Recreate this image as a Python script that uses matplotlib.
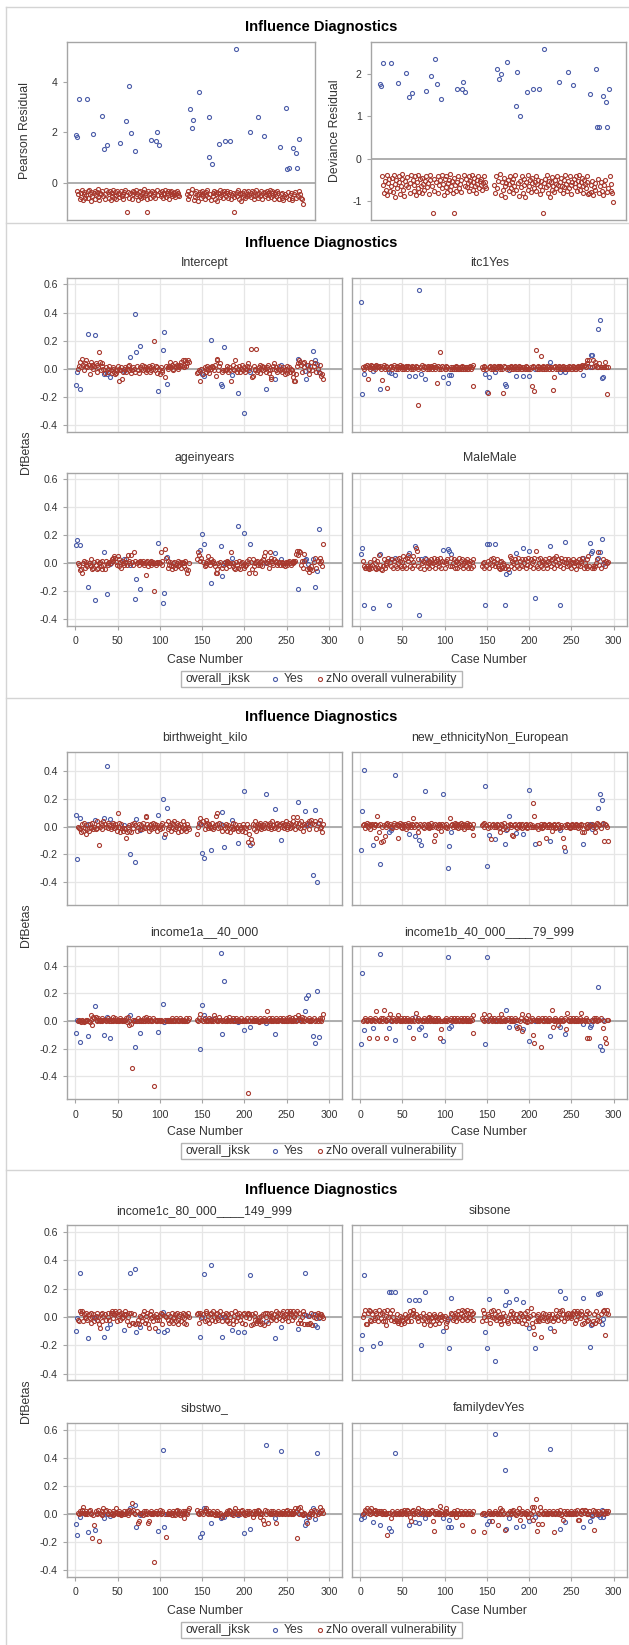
import matplotlib
matplotlib.use("Agg")
import matplotlib.pyplot as plt
from matplotlib.lines import Line2D
from matplotlib.patches import Rectangle

plt.rcParams['font.family'] = ['Liberation Sans', 'DejaVu Sans']

W, H = 629, 1645

# ---------------- data ----------------
CASES = list(range(1, 135)) + list(range(144, 294))
YES_CASES = [1, 2, 5, 15, 23, 34, 37, 41, 58, 65, 70, 72, 77, 98, 104, 105, 108,
             148, 150, 152, 160, 172, 173, 176, 185, 193, 200, 207, 225, 236, 243,
             264, 272, 273, 275, 281, 284, 286, 288]
NO_CASES = [c for c in CASES if c not in YES_CASES]
GROUP_ENDS = [14, 22, 33, 40, 57, 64, 76, 97, 107, 134, 159, 175, 192, 206, 224, 242, 263, 293]

LEGEND_TITLE = 'overall_jksk'
GROUP_LABELS = ['Yes', 'zNo overall vulnerability']
SECTION_TITLE = 'Influence Diagnostics'

# Residuals
PEARSON_YES = [1.89, 1.83, 3.30, 3.33, 1.92, 2.63, 1.34, 1.50, 1.57, 2.43, 3.84, 1.97, 1.26,
               1.70, 1.66, 2.00, 1.50, 2.91, 2.16, 2.49, 3.58, 1.04, 2.59, 0.75, 1.54, 1.66,
               1.66, 5.29, 2.00, 2.59, 1.84, 1.42, 2.95, 0.55, 0.59, 1.39, 1.17, 0.58, 1.74]
DEVIANCE_YES = [1.76, 1.71, 2.24, 2.24, 1.77, 2.02, 1.44, 1.54, 1.59, 1.95, 2.35, 1.76, 1.40,
                1.65, 1.63, 1.80, 1.56, 2.12, 1.87, 1.98, 2.28, 1.24, 2.03, 1.00, 1.56, 1.63,
                1.63, 2.58, 1.80, 2.03, 1.73, 1.51, 2.12, 0.75, 0.75, 1.47, 1.33, 0.75, 1.65]
# "No" group values in hundredths, one line per block of case numbers
PEARSON_NO = [
    [-30, -45, -62, -38, -55, -28, -66, -42, -35, -58, -48],
    [-33, -60, -27, -44, -70, -36, -52],
    [-40, -30, -63, -47, -35, -25, -56, -68, -38, -45],
    [-32, -50, -42, -62, -28],
    [-36, -58, -45, -30, -66, -40, -52, -27, -60, -35, -48, -62, -33, -44, -55, -38],
    [-30, -50, -42, -65, -36, -28],
    [-47, -113, -34, -58, -40, -62, -30, -45, -37],
    [-52, -28, -44, -66, -35, -50, -30, -60, -42, -36, -55, -25, -48, -38, -62, -113, -33, -45, -58, -40],
    [-30, -52, -44, -36, -60, -28, -47],
    [-35, -50, -42, -30, -58, -38, -45, -28, -55, -40, -33, -48, -62, -36, -44, -30, -52, -38, -46, -34, -56, -42, -30, -48, -40, -52],
    [-45, -62, -30, -52, -38, -25, -66, -40, -55, -33, -48, -70, -42],
    [-36, -58, -44, -30, -52, -40, -62, -35, -48, -28, -55, -42, -68],
    [-38, -50, -30, -62, -45, -35, -72, -40, -55, -28, -48, -36, -60, -42, -33],
    [-52, -40, -30, -58, -44, -36, -65, -48, -38, -55, -113, -42],
    [-35, -50, -28, -62, -45, -38, -70, -40, -55, -32, -48, -60, -36, -44, -52, -30, -46],
    [-40, -56, -33, -48, -62, -36, -50, -28, -44, -58, -38, -52, -30, -46, -64, -40],
    [-35, -50, -42, -30, -58, -38, -46, -28, -55, -40, -33, -48, -62, -36, -44, -52, -30, -40, -65, -62],
    [-45, -60, -38, -66, -50, -42, -55, -35, -62, -48, -40, -58, -66, -45, -36, -60, -52, -30, -44, -58, -62, -83],
]
DEVIANCE_NO = [
    [-41, -61, -81, -52, -73, -39, -85, -57, -48, -76, -64],
    [-45, -78, -38, -59, -89, -49, -69],
    [-54, -41, -82, -63, -48, -35, -74, -87, -52, -61],
    [-44, -67, -57, -81, -39],
    [-49, -76, -61, -41, -85, -54, -69, -38, -78, -48, -64, -81, -45, -59, -73, -52],
    [-41, -67, -57, -84, -49, -39],
    [-63, -128, -47, -76, -54, -81, -41, -61, -51],
    [-69, -39, -59, -85, -48, -67, -41, -78, -57, -49, -73, -35, -64, -52, -81, -128, -45, -61, -76, -54],
    [-41, -69, -59, -49, -78, -39, -63],
    [-48, -67, -57, -41, -76, -52, -61, -39, -73, -54, -45, -64, -81, -49, -59, -41, -69, -52, -62, -47, -74, -57, -41, -64, -54, -69],
    [-61, -81, -41, -69, -52, -35, -85, -54, -73, -45, -64, -89, -57],
    [-49, -76, -59, -41, -69, -54, -81, -48, -64, -39, -73, -57, -87],
    [-52, -67, -41, -81, -61, -48, -91, -54, -73, -39, -64, -49, -78, -57, -45],
    [-69, -54, -41, -76, -59, -49, -84, -64, -52, -73, -128, -57],
    [-48, -67, -39, -81, -61, -52, -89, -54, -73, -44, -64, -78, -49, -59, -69, -41, -62],
    [-54, -74, -45, -64, -81, -49, -67, -39, -59, -76, -52, -69, -41, -62, -83, -54],
    [-48, -67, -57, -41, -76, -52, -62, -39, -73, -54, -45, -64, -81, -49, -59, -69, -41, -54, -84, -81],
    [-61, -78, -52, -85, -67, -57, -73, -48, -81, -64, -54, -76, -85, -61, -49, -78, -69, -41, -59, -76, -81, -102],
]

# DfBetas, "Yes" group (same order as YES_CASES)
INTERCEPT_YES = [-0.114, -0.024, -0.143, 0.25, 0.238, -0.036, -0.036, -0.06, -0.017, 0.081, 0.393, 0.119, 0.16,
                 -0.157, 0.131, 0.264, -0.107, -0.017, -0.036, -0.052, 0.207, -0.11, -0.121, 0.152, -0.048,
                 -0.171, -0.314, -0.02, -0.143, -0.071, 0.029, 0.071, -0.017, -0.071, 0.024, 0.124, 0.06, 0.031, -0.024]
ITC1_YES = [0.476, -0.179, -0.036, -0.017, -0.143, -0.024, -0.03, -0.043, -0.052, -0.055, 0.564, -0.036, -0.071,
            -0.06, -0.1, -0.043, -0.043, -0.036, -0.167, -0.06, -0.024, -0.107, -0.124, -0.01, -0.052, -0.052,
            -0.052, 0.0, 0.048, -0.024, -0.02, -0.048, 0.01, 0.095, 0.1, 0.28, 0.35, -0.064, -0.06]
AGE_YES = [0.131, 0.167, 0.131, -0.171, -0.262, 0.083, -0.219, -0.005, 0.029, -0.012, -0.257, -0.114, -0.186,
           0.143, -0.286, -0.214, 0.048, 0.095, 0.207, 0.136, -0.143, 0.124, -0.088, 0.0, 0.04, 0.269, 0.214,
           0.136, 0.0, 0.076, 0.029, -0.186, 0.024, 0.031, -0.005, 0.031, -0.171, -0.052, 0.243]
MALE_YES = [0.064, 0.112, -0.298, -0.317, 0.067, -0.298, 0.03, 0.04, 0.076, 0.126, -0.369, 0.03, 0.04, 0.095,
            0.1, 0.085, 0.067, -0.298, 0.138, 0.138, 0.136, -0.298, -0.076, -0.06, 0.076, 0.112, 0.09, -0.25,
            0.124, -0.298, 0.155, 0.04, 0.143, 0.071, 0.088, 0.036, 0.083, 0.174, -0.005]
BIRTH_YES = [0.082, -0.231, 0.063, 0.022, 0.05, 0.063, 0.441, 0.058, 0.01, -0.195, -0.258, 0.055, -0.022, 0.082,
             0.198, -0.075, 0.137, 0.022, -0.188, -0.224, -0.166, 0.022, 0.106, -0.147, 0.046, -0.116, 0.258,
             -0.13, 0.234, 0.125, -0.094, 0.178, 0.113, 0.01, 0.02, -0.347, 0.118, -0.4, 0.025]
ETHN_YES = [-0.166, 0.113, 0.412, -0.135, -0.267, -0.039, -0.022, 0.371, -0.05, -0.067, -0.099, -0.13, 0.258,
            0.239, -0.296, -0.142, -0.039, 0.292, -0.287, -0.063, -0.087, -0.123, -0.027, 0.077, -0.046, -0.055,
            0.263, -0.128, -0.104, -0.027, -0.178, -0.128, 0.022, 0.01, -0.02, 0.137, 0.239, 0.19, 0.02]
INC1A_YES = [-0.089, 0.007, -0.154, -0.108, 0.108, -0.101, 0.027, -0.12, 0.007, 0.043, -0.186, 0.0, -0.089,
             -0.082, 0.12, -0.005, 0.01, -0.202, 0.116, 0.043, 0.012, 0.489, -0.094, 0.292, 0.007, -0.005,
             -0.065, -0.046, -0.012, -0.094, 0.007, 0.007, 0.072, 0.164, 0.188, -0.108, -0.157, 0.217, -0.118]
INC1B_YES = [-0.166, 0.349, -0.065, -0.053, 0.482, -0.048, 0.0, -0.137, -0.041, 0.027, -0.06, -0.046, -0.101,
             -0.145, 0.46, -0.053, -0.034, -0.166, 0.46, 0.007, 0.01, 0.01, 0.08, -0.046, -0.034, -0.058,
             -0.142, 0.0, -0.108, -0.041, -0.094, -0.024, -0.041, -0.03, 0.007, 0.248, -0.178, -0.21, 0.007]
INC1C_YES = [-0.099, -0.005, 0.308, -0.151, -0.005, -0.144, -0.08, -0.052, -0.094, 0.308, 0.339, -0.104, -0.073,
             -0.096, 0.038, -0.104, -0.092, -0.144, 0.0, 0.304, 0.367, 0.0, -0.144, 0.0, -0.092, -0.104,
             -0.104, 0.296, -0.028, -0.146, -0.073, -0.087, 0.308, 0.014, 0.01, 0.019, -0.056, -0.068, -0.01]
SIBS1_YES = [-0.226, -0.127, 0.296, -0.205, -0.186, 0.174, 0.174, 0.174, 0.12, 0.12, 0.12, -0.198, 0.174,
             -0.099, -0.014, -0.221, 0.132, -0.108, -0.216, 0.125, -0.311, 0.085, 0.186, 0.108, 0.125, 0.108,
             -0.08, -0.221, -0.08, 0.186, 0.132, 0.132, -0.209, -0.056, -0.05, 0.16, 0.172, -0.05, -0.014]
SIBS2_YES = [-0.073, -0.151, -0.024, -0.129, -0.113, -0.031, 0.0, -0.014, 0.0, 0.04, 0.064, -0.094, -0.007,
             -0.12, 0.456, -0.089, 0.0, -0.165, -0.136, 0.04, -0.066, -0.031, -0.024, -0.02, 0.0, -0.005,
             -0.132, -0.108, 0.492, -0.031, 0.449, 0.005, -0.078, -0.047, -0.014, 0.04, -0.038, 0.435, 0.016]
FAMDEV_YES = [-0.038, -0.01, -0.024, -0.054, -0.078, -0.101, -0.12, 0.435, -0.078, -0.054, -0.066, 0.0, -0.031,
              -0.031, -0.094, -0.04, -0.094, -0.007, -0.073, -0.047, 0.569, 0.311, -0.106, -0.031, -0.089,
              -0.082, -0.047, -0.019, 0.464, -0.108, -0.054, -0.094, -0.047, 0.0, -0.014, -0.01, -0.02, 0.028, -0.024]

# DfBetas, "No" group in hundredths, one line per block of case numbers
INTERCEPT_NO = [
    [0, 2, 5, 1, 7, 3, -1, 4, 2, 6, 1], [3, -4, 5, 1, 3, 0, 2], [4, -2, 3, 1, 12, 5, -1, 2, 4, 0],
    [-3, 1, -2, 0, 2], [-1, -3, 1, 0, -2, -4, -3, -1, 2, -9, 0, -1, 1, -7, -2, 0], [1, -2, 0, 2, -1, 3],
    [-3, -1, 1, 0, -2, 2, -1, -3, 1], [0, 3, -1, 2, 0, -2, 1, -1, 0, 2, -2, 1, -1, 3, 0, 20, -1, 2, -3, 1],
    [0, -4, 1, -2, -1, -6, 2], [1, 0, 2, 5, 1, 3, 0, -1, 2, 4, 1, 3, 2, 0, 1, 3, 5, 2, 6, 1, 3, 6, 2, 4, 6, 5],
    [-3, -2, -1, -9, 0, -4, 1, -2, 0, 2, -1, -3, 1], [0, 2, 1, -1, 3, -5, 7, 6, -1, 2, 4, -2, -1],
    [-1, -1, 0, 2, -2, 1, -1, -9, 0, 3, -1, 6, 1, -2, 0], [2, -2, 0, 3, -1, 1, -2, 0, 2, 4, -1, 1],
    [14, -6, -5, 2, -1, 0, 14, -2, -1, 1, 3, -3, 0, 2, -1, 1, 0], [-2, 1, 3, -3, -1, -7, -6, 0, 2, 4, -1, 1, -2, 0, 2, -1],
    [0, -2, 1, -1, -4, 0, 2, -3, -1, 1, -2, 0, -1, -3, -6, -9, -9, -4, 2, 4],
    [6, 5, 3, -2, 4, 1, 5, 3, 0, -4, 2, 5, -1, 2, 4, -2, 0, 3, -3, -5, -4, -7],
]
ITC1_NO = [
    [1, 0, 2, 1, 3, -7, 2, 0, 1, 3, 2], [1, 2, 0, 3, 1, 2, 1], [2, 0, -8, 1, 3, 0, 2, 1, -14, 0],
    [1, 2, 0, 1, 3], [0, 1, 2, 0, 1, 3, 1, 0, 2, 1, 0, 1, 2, 0, 1, 2], [1, 0, 2, 1, 0, 1],
    [2, 1, -26, 0, 1, 3, 0, 1, 2], [1, 0, 2, 1, 0, 1, 2, 0, 1, 3, 1, 0, 1, -10, 2, 0, 12, 1, 0, 2],
    [1, 0, 2, 0, 1, 0, 1], [0, 1, 0, 1, 2, 0, 1, 0, 0, 1, 0, 1, 2, 0, 1, 0, 1, 0, 1, 0, 1, 2, 0, 1, -12, 3],
    [1, 0, 2, 1, 0, -17, 1, 2, 0, 1, 0, 2, 1], [0, 1, 2, 1, 0, 2, 1, 0, -17, 2, 1, 0, 1],
    [1, 0, 2, 1, 0, 1, 2, 0, 1, 0, 2, 1, 0, 1, 0], [1, 0, 2, 0, 1, 0, 0, 1, -12, 2, 1, -16],
    [13, 0, 1, 2, 0, 1, 9, 0, 1, 2, 0, 1, 0, 2, 1, 0, 1], [1, 0, -15, -6, 1, 2, 0, 1, 0, 2, 1, 0, 1, 2, 0, 1],
    [0, 1, 0, 2, 1, 0, 1, 0, 2, 1, 0, 1, 0, 1, 2, 1, 0, 2, 1, 3],
    [2, 3, 1, 6, 4, 2, 6, 1, 6, 2, 5, 3, 1, 1, 4, 1, 1, 1, 5, 1, -18, 1],
]
AGE_NO = [
    [0, -1, -5, -4, -7, 0, 2, -3, 1, -1, -2], [0, -1, 3, -2, -4, -3, 1], [-1, -4, 2, -3, 0, 1, -2, -4, 2, -1],
    [-4, 2, 0, -1, 1], [0, 3, 4, 2, 5, 4, 1, -1, 5, 3, -2, 1, -3, 2, 0, -1], [1, 3, -1, 6, 2, 0],
    [6, 1, -1, 8, 2, 0, 1, -1, 2], [1, 0, 2, -1, 0, -8, 1, 2, -2, 0, 1, -1, 2, 0, 1, -20, 0, -1, 1, 0],
    [1, 0, 8, 2, -1, 10, 4], [2, -3, -1, 1, -2, -4, 0, -2, 1, -3, -1, 0, 2, -2, -1, 1, -3, 0, 1, -2, 0, 2, -4, -7, -5, 0],
    [3, 8, 6, 2, 4, 1, -2, 0, -1, 2, 5, 1, -1], [3, 1, 2, 0, -2, -7, -4, -7, 0, -1, 1, -3, -1],
    [1, -3, 0, 2, 1, -2, 0, 8, 0, -2, -3, -4, 1, -1, -3], [2, -4, 0, 1, -1, -3, -2, -1, 2, 0, -7, 3],
    [1, -4, 3, -2, 0, -7, 1, 2, -1, 0, 1, -1, 2, -2, 3, 5, 8], [1, 0, 2, -3, 8, 4, 2, 0, -1, 3, 1, 2, -1, 0, 1, -1],
    [0, 1, -1, 0, -2, 1, 0, -1, 1, 2, 0, -1, 1, 2, 0, 1, 2, 7, 9, 6],
    [9, 8, -1, 2, -3, 7, 2, -4, -6, -3, -4, -2, -5, 1, 4, -3, 2, 4, 0, 2, -2, 14],
]
MALE_NO = [
    [2, -2, -3, -3, -2, -3, -4, 1, -2, -3, -1], [3, -3, 0, -4, 2, -3, 6], [-1, -4, -5, -2, 3, -3, 0, -1, 2, 4],
    [1, -2, 3, -3, 2], [-2, 3, -3, 0, 4, 2, -2, -3, 1, 5, -2, 3, -3, 4, 2, 6], [-2, 3, -3, 1, 5, -1],
    [11, 9, -2, 3, -3, 0, 2, -4, 1], [3, -2, 0, 2, -3, 1, 3, -2, 0, 4, 1, -3, 2, 3, 0, -2, 1, 4, -3, 2],
    [1, -3, 2, 0, 3, -2, 4], [-2, 0, 3, -3, 1, 2, -3, 0, 4, -2, 2, -1, 3, -3, 0, 2, -2, 1, 3, -3, 0, 2, -3, 1, -2, 3],
    [-2, 0, -3, 1, -2, 2, -3, 0, 3, -1, 4, 2, -2], [0, 3, -2, -3, 1, -4, 2, -3, 0, -1, -3, -2, -4],
    [5, -2, 4, 2, 0, -3, 3, 1, -2, 4, -3, 2, -1, 3, -2], [0, 3, -3, 2, -1, 4, -2, 3, 0, 2, -3, 4],
    [9, -2, 3, -3, 0, 4, -2, 1, -3, 2, 0, 3, -1, -3, 2, 0, 4], [-2, 3, 0, 4, -3, 2, 5, -1, 3, 0, -2, 4, 2, -3, 1, 3],
    [0, -2, 3, -1, 2, 0, -3, 1, 3, -2, 0, 2, -4, 1, -1, 3, -2, 0, 2, 4],
    [-3, 0, -2, 3, -3, 5, -2, -3, -2, -3, -2, 0, 3, 8, -1, -3, 3, 1, -2, 2, 0, 1],
]
BIRTH_NO = [
    [0, -1, -2, -4, 2, -3, 3, -1, -5, 1, -2], [-3, 2, 0, -1, 3, -2, 0], [-2, 4, -1, 1, -13, 0, 3, 1, -2, 4],
    [2, 0, -1, 3, 1], [-2, 0, 3, 1, -1, 2, 0, -3, 10, 3, 0, -4, 2, -1, -3, -1], [-2, -8, -4, 0, -3, 1],
    [-4, 2, -1, 3, 1, -3, 0, 2, -2], [1, -2, 3, 0, -1, 8, 7, 2, 0, -3, 1, 2, -2, 0, 3, -1, 2, 0, -3, 1],
    [0, -2, 1, 3, -1, -5, 2], [4, -2, 0, 1, -3, 3, -1, 2, 4, -2, 0, 3, -4, 1, -1, 2, -3, 0, 4, -2, 1, -1, -3, 2, 0, -2],
    [-5, 0, 3, 6, 2, 4, -2, 1, 5, 3, -1, 2, 0], [-1, 3, -2, 0, 1, 8, 10, 2, -1, 3, 0, -3, 1],
    [-1, 2, 0, -3, 1, -1, -4, 0, -2, 3, -1, 2, -1, 0, -3], [1, -2, 0, -3, 2, 0, -4, -1, 2, -11, -5, 0],
    [-9, -12, 2, -2, 4, 1, -3, 0, 2, -1, 1, 3, -2, 0, 1, -1, 3], [0, 2, -1, 1, 3, 0, -2, 4, 1, -1, 2, 0, 3, -2, 1, 2],
    [0, 3, 1, -1, 2, 4, 0, -2, 1, 3, -1, 2, 0, 4, 7, 1, -2, 3, 7, 0],
    [3, -1, 4, 1, -3, 2, 0, 3, 4, -2, 1, 5, 3, 2, 4, -2, 3, -1, 5, 0, -4, 2],
]
ETHN_NO = [
    [1, 2, -1, 1, 3, 0, 2, 1, -2, 1, 2], [0, 1, 2, -8, 8, 1, -4], [2, -11, 0, -10, 1, -7, 2, 0, 3, 1],
    [2, 0, -1, 1, 3], [0, 2, 1, -8, 1, 3, 0, -1, 2, 1, 0, 2, -2, 1, 0, 3], [1, 0, 2, 1, 6, 0],
    [2, 1, -4, 0, 2, 1, 0, -1, 2], [1, 0, 2, -1, 1, 0, 3, 0, 1, -10, -6, 2, 0, 1, -1, 2, 0, 1, -3, 2],
    [1, 0, 2, 0, -1, 6, 1], [2, 0, 1, 3, 0, 2, 1, -1, 2, 0, 3, 1, 0, 2, -2, 1, 0, 3, 1, 0, 2, 1, 0, -1, -6, 2],
    [1, 2, 0, 3, 1, -1, 2, 0, -9, 1, 2, 0, 1], [0, 2, 1, -1, -4, 0, 2, 1, -2, 3, 0, -2, 1],
    [2, 0, 1, -6, -7, 1, 2, 0, -1, 1, 2, 0, 1, -1, 2], [0, 1, 2, 0, -1, 1, 2, 0, 1, 0, 17, 8],
    [0, 1, -2, 1, -12, 0, 2, -1, 1, 0, 2, 1, -8, 0, 1, 2, 0], [1, -3, 0, 2, 1, -1, 0, 1, 2, -1, 0, 1, 0, -8, -15, 1],
    [0, 2, 1, 0, -1, 1, 0, 2, 1, 0, 1, 2, 0, 1, -1, 1, 0, 2, 1, -4],
    [-4, 1, 0, 2, -1, 0, 1, 2, 0, 1, -4, 0, 3, 2, 1, -1, 3, -10, 2, 1, 0, -10],
]
INC1A_NO = [
    [0, 1, 0, -1, 1, 0, -1, 0, 1, 0, 1], [0, -1, 1, 4, -3, 3, 2], [3, 1, 0, 2, 1, 0, 1, 2, 0, 1],
    [1, 0, 2, 1, 0], [0, 1, 3, 0, 1, 2, 0, 1, 0, 1, 0, 2, 1, 0, 1, 0], [1, 2, -1, 3, -3, 0],
    [-2, -34, 1, 0, 1, 0, 2, 0, 1], [0, 1, 0, 2, 0, 1, 3, 1, 0, 2, 1, 0, 1, 0, 2, -47, 1, 0, 1, 0],
    [1, 0, 1, 0, 0, 1, 0], [0, 1, 0, 1, 0, 2, 1, 0, 1, 0, 2, 1, 0, 1, 0, 2, 1, 0, 1, 0, 1, 0, 2, 0, 1, 2],
    [1, 0, 2, 5, 1, 0, 2, 1, 0, 1, 0, 2, 1], [0, 1, 0, 4, 2, 1, 0, 1, 0, 3, 1, 0, 1],
    [0, 2, 1, 0, 1, 3, 0, 1, 2, 0, 1, 0, 2, 1, 0], [1, 0, 2, 0, 1, 0, 1, 0, 2, -52, 1, 0],
    [2, 0, 1, 0, 2, 1, 0, 1, 0, -1, 2, 0, 1, 0, 1, 2, 0], [1, 7, 0, 2, 1, 0, 1, 2, 0, 1, 0, 2, 1, 0, 1, 2],
    [0, 1, 2, 0, 1, 0, 2, 1, 0, 3, 1, 0, 2, 1, 0, 1, 3, 0, 1, 4],
    [2, 1, 0, 3, 1, 0, 2, 1, 0, 2, 1, 0, 1, 2, 0, 1, 0, 2, 1, 0, 2, 5],
]
INC1B_NO = [
    [0, 1, 2, 1, 0, 1, -12, 1, 2, 0, 1], [1, 0, 2, 7, -12, 1, 0], [1, 2, 0, 2, 8, 1, 0, -12, 1, 2],
    [5, 1, 0, 2, 1], [0, 1, 2, 4, 1, 0, 2, 1, 0, 1, 2, 0, 1, 2, 0, 1], [1, 0, 2, 1, -12, 0],
    [6, 1, 0, 2, 1, 0, 1, 2, 0], [1, 0, 2, 1, 3, 0, 2, 1, 0, 1, 2, 0, 1, 0, 2, 1, 0, -12, -6, 0],
    [1, 0, 2, 1, 0, 1, 2], [0, 1, 2, 0, 1, 0, 2, 1, 0, 1, 2, 0, 1, 0, 2, 1, 0, 1, 2, 0, 1, 0, 2, 1, -9, 4],
    [2, 1, 0, 5, 1, 0, 4, 1, 2, 0, 1, 2, 0], [1, 0, 2, 1, 0, 1, 5, 0, 2, 1, 0, 1, 2],
    [0, 1, 2, 0, 1, 0, 2, 1, -5, 1, -4, 0, 2, -7, 5], [1, 0, 2, -1, 0, 4, 1, 0, 2, 1, -10, -16],
    [1, 0, 2, 1, 0, 1, -19, 2, 0, 1, 0, 2, 1, 0, 1, 0, 2], [1, 8, -4, 1, 0, 2, 1, 0, -3, 1, 0, 2, 1, 0, 1, 2],
    [-6, 6, 1, 0, 2, 1, 0, 1, 2, 0, 1, 0, 2, 1, 0, 1, 2, 0, 6, 1],
    [1, 0, 2, -12, 1, 0, -12, 1, 0, 2, 1, 2, 0, 1, 1, 2, -5, 0, -12, -16, 1, 1],
]
INC1C_NO = [
    [-2, -3, 4, 3, 4, -3, 2, 0, -1, 3, -2], [2, -1, -4, 3, 0, 2, -3], [1, 3, -2, 0, -5, -8, 2, -3, 3, 1],
    [2, -2, 3, 0, -2], [3, 4, 3, -1, 2, 4, 3, -3, 1, 2, 4, -2, 3, -1, 0, 2], [4, 2, -3, 0, -6, 3],
    [3, -4, -4, 2, -5, -4, -2, -5, 1], [0, -3, 2, 4, -4, 1, -2, 3, -5, -8, 2, -1, 4, 0, -3, 1, -8, 2, -2, 0],
    [-2, 1, 3, -5, 2, 1, 0], [-2, 2, -4, 1, -3, 3, -4, -1, 0, 2, -3, 3, -2, -5, 1, 2, -3, 0, 3, -4, -1, 2, -5, 1, 3, 0],
    [2, 3, -4, 3, -1, 2, -3, 3, 4, -2, 1, -4, 2], [3, -2, 4, 0, -3, 2, -1, 3, -2, 1, 4, -3, 2],
    [1, 3, -3, -2, 2, -4, 0, 3, -2, -5, 1, 4, -3, 2, 0], [3, -2, 1, -4, 2, 3, -5, 0, 2, 3, -1, 2],
    [-6, 2, -5, 1, -2, 3, -4, -3, -2, 0, -3, -5, 1, -4, 2, -6, 3], [0, 3, -4, 2, 1, -2, 3, 0, -1, 2, 4, -2, 1, 3, -1, 2],
    [3, -2, 4, 1, -1, 2, 4, 0, -3, 3, 4, 2, -2, 4, 1, 0, 3, 2, 4, -4],
    [3, -2, -4, 0, 4, -5, 2, -5, -5, 1, -4, 3, -6, 0, 2, -1, 3, 2, 0, 2, 1, -1],
]
SIBS1_NO = [
    [0, 2, 5, -5, -5, 3, 5, -2, 4, -3, 2], [-2, 4, -1, 3, 0, -3, 5], [2, -1, 3, -3, 4, -3, 1, -6, 5, 0],
    [3, -2, 5, 0, -3], [-2, -3, 2, -4, -3, 1, -5, -2, 0, -3, -4, 2, -1, 0, -3, 1], [4, -3, 2, 3, 5, 1],
    [2, -1, 0, -3, 1, -2, 3, -1, -5], [1, -3, 0, -2, 2, -6, -1, 0, -3, 2, -5, 1, 0, -2, -1, -4, 0, 2, -2, 1],
    [-1, 1, -4, -7, -3, 0, 3], [2, -2, -1, 3, 0, -3, 2, 4, -1, 0, 3, 5, -2, 1, 4, -1, 2, 5, -2, 3, 0, -1, 4, 2, -2, 3],
    [-3, 5, 0, 3, -2, 2, 1, -4, 4, 0, 5, -1, 2], [-2, 1, 4, -1, 0, -3, -5, 0, 3, -2, 1, -3, -4],
    [2, -1, 4, 0, 3, -3, -1, 2, -2, -3, 0, 3, 2, -4, 1], [-2, 3, -5, 0, 4, -1, 1, 6, -4, 2, -7, -12],
    [-3, 1, -2, 2, -3, -1, -14, 0, 3, -2, -1, 2, 0, -3, 1, 2, -2], [-1, 2, -3, -1, -10, 0, 5, 1, -2, 3, 4, -1, 5, 2, -3, 0],
    [2, -1, 3, 0, 2, -1, 1, 3, 2, 4, -4, 3, -2, 4, 1, 3, -1, 4, 2, -5],
    [-4, 0, 2, -3, 4, -2, 3, -5, -3, 2, -4, 4, -2, 1, -3, 2, 4, 5, -13, 3, 5, 2],
]
SIBS2_NO = [
    [1, 0, 2, 1, 3, 5, 1, 0, 2, 1, 0], [2, 3, 1, 0, -17, -1, -8], [2, 0, 1, 3, -19, 1, 0, 2, -1, 4],
    [2, 3, 1, 0, 2], [0, 1, -1, 2, 0, 1, 4, 1, 0, 2, 1, 0, -1, 1, 0, 2], [0, 1, 2, -1, 1, 3],
    [2, 8, 3, 1, 0, 2, -6, -5, 1], [0, 1, -1, 2, 0, 1, 2, 0, -6, -5, 1, 0, 2, 1, 0, -34, 1, 2, 0, 1],
    [1, 3, 0, 2, 1, 0, -16], [0, 1, 2, 0, 1, -1, 2, 1, 0, -1, 2, 3, 1, 0, 2, -1, 1, 0, 2, 1, -3, 2, 1, 0, 3, 4],
    [3, 1, 0, 2, 1, 0, 3, 4, 2, 1, 0, 2, 1], [0, 1, 2, 0, -1, 1, 0, 2, -1, 0, 1, -2, -1],
    [0, 1, 2, 0, 1, 3, 2, 0, -1, 1, 2, 4, 1, 0, 2], [1, 0, 2, 3, 1, 0, -1, 1, 2, 0, 1, 2],
    [1, 0, -2, 2, 1, 0, 2, 1, 3, 2, 0, -2, 1, 0, -4, -7, 3], [0, 2, -6, 1, 0, 2, 1, 0, 2, 1, 0, -6, 1, 2, 0, 1],
    [1, 0, 2, 1, 0, 2, 1, 3, 0, 1, 2, 0, 1, 2, 0, 1, 4, 2, -17, 4],
    [0, 5, 2, 0, -1, 0, 1, -6, -2, 0, 1, 2, 0, 3, -1, 2, 0, 1, 5, 2, 3, 1],
]
FAMDEV_NO = [
    [0, 1, 3, 2, 4, 1, 3, 2, 0, 4, 1], [2, 1, 3, 0, 2, 1, 2], [1, 2, 0, 1, 2, 0, 1, 0, -15, 1],
    [1, -3, 2, 0, 1], [0, 1, 2, 1, 0, 1, 2, 0, 2, 1, 3, 1, 0, 3, 2, 1], [-2, -5, 2, 1, 3, 0],
    [1, 2, 0, 4, 1, 3, 0, 2, 1], [1, 0, 2, 1, 0, 1, 2, 3, -5, -12, 0, 1, 2, 1, 0, 0, 6, 1, 2, 0],
    [1, 0, 4, 2, 1, 0, 1], [0, 1, 2, 0, -2, 1, 3, 0, 1, 0, 2, -8, 1, 0, 1, 2, 0, 1, 0, 1, 2, 0, 1, 0, 2, -12],
    [0, 1, -13, 1, 0, 1, 2, 0, 1, -5, 0, 1, 2], [1, 0, -8, 1, 0, 4, 2, 3, 0, 1, -11, 0, 1],
    [2, 0, 1, 2, 3, 1, 0, -1, 2, 1, 4, -4, 0, 1, 2], [1, 0, 1, 2, 0, -2, 1, 0, 5, 2, -4, 5],
    [11, -12, -7, 1, 0, 5, 2, -7, 1, 0, 1, 2, 0, 1, 0, 1, 2], [1, 0, 2, 1, -13, 0, 1, 2, 0, 1, 3, -1, 0, -4, 2, 1],
    [0, 2, 1, 0, 1, 2, 0, 1, 0, 1, 2, 1, 0, 3, -4, -4, 1, 2, 0, 3],
    [1, 3, 2, 0, 1, 0, 2, -1, 3, -11, 2, 0, 1, 2, 0, 1, 2, 0, 1, 2, 1, 2],
]

SECTIONS = [
    dict(title_y=243, rows=[(277.7, 431.7), (472.7, 626.0)], name_ys=[263, 458.3],
         ylim=(-0.448, 0.648), yticks=[-0.4, -0.2, 0.0, 0.2, 0.4, 0.6],
         panels=[('Intercept', INTERCEPT_YES, INTERCEPT_NO), ('itc1Yes', ITC1_YES, ITC1_NO),
                 ('ageinyears', AGE_YES, AGE_NO), ('MaleMale', MALE_YES, MALE_NO)],
         case_y=660, legend=(670.7, 687.3)),
    dict(title_y=716.7, rows=[(751.7, 905.0), (946.0, 1099.3)], name_ys=[737.7, 931.7],
         ylim=(-0.566, 0.542), yticks=[-0.4, -0.2, 0.0, 0.2, 0.4],
         panels=[('birthweight_kilo', BIRTH_YES, BIRTH_NO), ('new_ethnicityNon_European', ETHN_YES, ETHN_NO),
                 ('income1a__40_000', INC1A_YES, INC1A_NO), ('income1b_40_000____79_999', INC1B_YES, INC1B_NO)],
         case_y=1132, legend=(1143.3, 1159.3)),
    dict(title_y=1190, rows=[(1225.0, 1380.0), (1422.7, 1576.7)], name_ys=[1211, 1408],
         ylim=(-0.445, 0.649), yticks=[-0.4, -0.2, 0.0, 0.2, 0.4, 0.6],
         panels=[('income1c_80_000____149_999', INC1C_YES, INC1C_NO), ('sibsone', SIBS1_YES, SIBS1_NO),
                 ('sibstwo_', SIBS2_YES, SIBS2_NO), ('familydevYes', FAMDEV_YES, FAMDEV_NO)],
         case_y=1611, legend=(1621.7, 1638.3)),
]
XTICKS = [0, 50, 100, 150, 200, 250, 300]

# ---------------- style ----------------
BLUE = '#4A5CA8'
RED = '#A8392E'
FRAME = '#A5A5A5'
GRID = '#E6E6E6'
REFLINE = '#A8A8A8'
BORDER = '#D4D4D4'
TXT = '#333333'
TITLE_FS = 10.6
LABEL_FS = 8.8
TICK_FS = 7.6
MS = 2.9
MEW = 0.8

COLS = [(67.4, 341.8), (352.2, 626.5)]


def expected_sizes():
    out, prev = [], 0
    for e in GROUP_ENDS:
        out.append(sum(1 for c in NO_CASES if prev < c <= e))
        prev = e
    return out


EXP = expected_sizes()


def no_vals(groups, name):
    got = [len(g) for g in groups]
    if got != EXP:
        raise ValueError(f"{name}: {got} vs {EXP}")
    return [v / 100 for g in groups for v in g]


fig = plt.figure(figsize=(W / 100, H / 100), dpi=100)
fig.patch.set_facecolor('white')


def ax_at(x0, y0, x1, y1):
    return fig.add_axes([x0 / W, 1 - y1 / H, (x1 - x0) / W, (y1 - y0) / H])


def txt(x, y, s, **kw):
    kw.setdefault('ha', 'center')
    kw.setdefault('va', 'center')
    fig.text(x / W, 1 - y / H, s, **kw)


def fline(xs, ys):
    fig.add_artist(Line2D([x / W for x in xs], [1 - y / H for y in ys],
                          transform=fig.transFigure, color=BORDER, lw=1.0))


def frame(ax):
    for s in ax.spines.values():
        s.set_color(FRAME)
        s.set_linewidth(1.0)
    ax.tick_params(axis='both', colors=FRAME, labelcolor=TXT, labelsize=TICK_FS,
                   length=3, width=0.8, direction='out')


def scatter(ax, yes, no):
    ax.plot(YES_CASES, yes, linestyle='none', marker='o', ms=MS, mfc='none', mec=BLUE, mew=MEW, zorder=3)
    ax.plot(NO_CASES, no, linestyle='none', marker='o', ms=MS, mfc='none', mec=RED, mew=MEW, zorder=4)


# borders
fline([6, W], [7, 7])
fline([6, 6], [7, H])
for y in (223.3, 697.6, 1169.6):
    fline([6, W], [y, y])

# ---------- section 1: residuals ----------
txt(321, 26.7, SECTION_TITLE, fontsize=TITLE_FS, fontweight='bold', color='black')
res_specs = [((67.4, 41.7, 315.0, 220.0), PEARSON_YES, no_vals(PEARSON_NO, 'pearson'),
              (-1.46, 5.58), [0, 2, 4], 'Pearson Residual', 25),
             ((371.4, 41.7, 625.7, 220.0), DEVIANCE_YES, no_vals(DEVIANCE_NO, 'deviance'),
              (-1.44, 2.75), [-1, 0, 1, 2], 'Deviance Residual', 335)]
for (x0, y0, x1, y1), yes, no, ylim, yt, lab, lx in res_specs:
    ax = ax_at(x0, y0, x1, y1)
    frame(ax)
    ax.axhline(0, color=REFLINE, lw=1.3, zorder=1)
    scatter(ax, yes, no)
    ax.set_xlim(-10, 309)
    ax.set_ylim(*ylim)
    ax.set_xticks([])
    ax.set_yticks(yt)
    ax.set_yticklabels([str(v) for v in yt])
    ax.tick_params(axis='y', pad=4)
    txt(lx, (y0 + y1) / 2, lab, rotation=90, fontsize=LABEL_FS, color=TXT)

# ---------- DfBetas sections ----------
for si, sec in enumerate(SECTIONS):
    txt(321, sec['title_y'], SECTION_TITLE, fontsize=TITLE_FS, fontweight='bold', color='black')
    for pi, (name, yes, no_groups) in enumerate(sec['panels']):
        r, c = divmod(pi, 2)
        (x0, x1), (y0, y1) = COLS[c], sec['rows'][r]
        ax = ax_at(x0, y0, x1, y1)
        frame(ax)
        ax.set_axisbelow(True)
        ax.grid(True, color=GRID, lw=0.9)
        ax.axhline(0, color=REFLINE, lw=1.3, zorder=1)
        scatter(ax, yes, no_vals(no_groups, name))
        ax.set_xlim(-9.5, 315.3)
        ax.set_ylim(*sec['ylim'])
        ax.set_xticks(XTICKS)
        ax.set_yticks(sec['yticks'])
        if c == 0:
            ax.set_yticklabels([f"{v:.1f}" for v in sec['yticks']])
            ax.tick_params(axis='y', pad=4)
        else:
            ax.tick_params(axis='y', length=0, labelleft=False)
        if r == 1:
            ax.set_xticklabels([str(v) for v in XTICKS])
            ax.tick_params(axis='x', pad=4.5)
            txt((x0 + x1) / 2, sec['case_y'], 'Case Number', fontsize=LABEL_FS, color=TXT)
        else:
            ax.tick_params(axis='x', length=0, labelbottom=False)
        txt((x0 + x1) / 2, sec['name_ys'][r], name, fontsize=LABEL_FS, color=TXT)
    ytop, ybot = sec['rows'][0][0], sec['rows'][1][1]
    txt(26, (ytop + ybot) / 2, 'DfBetas', rotation=90, fontsize=LABEL_FS, color=TXT)
    # legend
    lt, lb = sec['legend']
    ly = (lt + lb) / 2
    fig.add_artist(Rectangle((180.5 / W, 1 - lb / H), (462 - 180.5) / W, (lb - lt) / H,
                             transform=fig.transFigure, fill=False, edgecolor='#B5B5B5', lw=1.0))
    txt(185.3, ly, LEGEND_TITLE, ha='left', fontsize=LABEL_FS, color=TXT)
    for mx, tx, col, lab in ((274.8, 283.8, BLUE, GROUP_LABELS[0]), (319.7, 325.7, RED, GROUP_LABELS[1])):
        fig.add_artist(Line2D([mx / W], [1 - ly / H], transform=fig.transFigure, linestyle='none',
                              marker='o', ms=MS, mfc='none', mec=col, mew=MEW))
        txt(tx, ly, lab, ha='left', fontsize=LABEL_FS, color=TXT)

fig.savefig('out.png', dpi=100, facecolor='white')
